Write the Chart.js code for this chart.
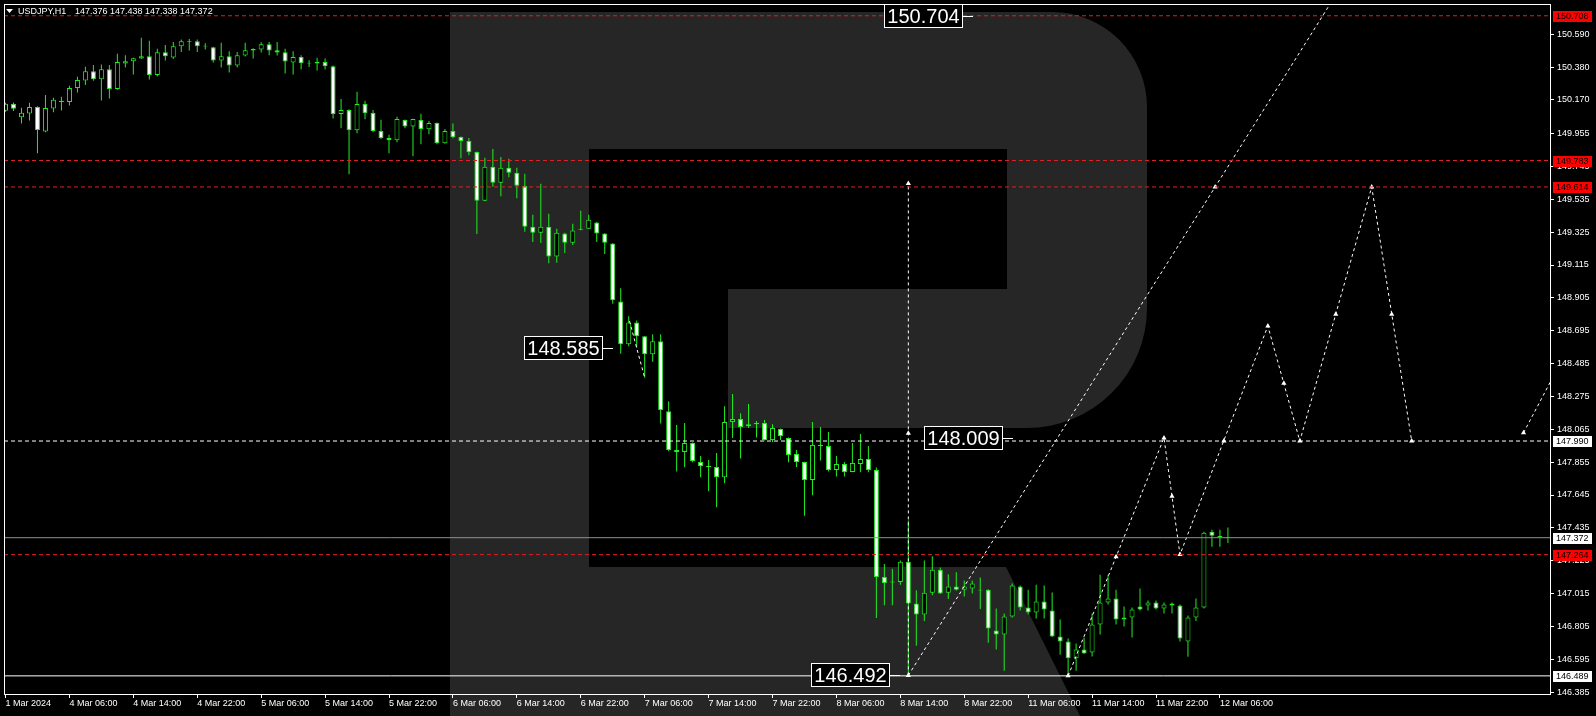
<!DOCTYPE html>
<html lang="en">
<head>
<meta charset="UTF-8">
<title>USDJPY,H1</title>
<script src="https://cdn.jsdelivr.net/npm/chart.js"></script>
<style>
  html, body { margin: 0; padding: 0; background: #000; overflow: hidden; }
  canvas { display: block; }
</style>
</head>
<body>
<canvas id="fxChart" width="1596" height="716"></canvas>
<script>
// USDJPY H1 candles, bar 0 = 1 Mar 22:00, last bar = 12 Mar 07:00
const opens = [150.101,150.146,150.059,150.084,150.125,149.969,150.116,150.157,150.157,150.246,
150.294,150.354,150.303,150.367,150.240,150.403,150.418,150.435,150.450,150.329,
150.475,150.441,150.514,150.541,150.546,150.516,150.507,150.422,150.450,150.390,
150.454,150.486,150.492,150.526,150.488,150.475,150.409,150.444,150.407,150.403,
150.412,150.386,150.080,150.106,149.977,150.144,150.087,149.972,149.927,149.913,
150.042,150.001,150.042,149.982,150.023,149.893,149.972,149.934,149.908,149.838,
149.526,149.743,149.641,149.736,149.704,149.621,149.360,149.322,149.360,149.169,
149.316,149.258,149.341,149.347,149.386,149.316,149.252,148.882,148.608,148.748,
148.659,148.544,148.627,148.181,147.933,147.920,147.977,147.856,147.831,147.824,
147.758,148.111,148.130,148.098,148.105,148.105,147.996,148.067,148.009,147.907,
147.856,147.741,147.965,147.958,147.805,147.843,147.792,147.843,147.875,147.805,
147.121,147.092,147.089,147.219,146.951,146.881,147.021,147.168,147.021,147.060,
147.040,147.047,147.040,147.040,146.779,146.754,146.868,147.060,146.926,146.894,
146.964,146.907,146.741,146.709,146.601,146.658,146.638,146.817,146.958,146.983,
146.849,146.862,146.932,146.939,146.958,146.920,146.951,146.939,146.709,146.862,
146.926,147.410,147.385,147.376];
const highs = [150.152,150.154,150.120,150.152,150.130,150.201,150.184,150.191,150.261,150.318,
150.382,150.393,150.396,150.393,150.465,150.456,150.440,150.567,150.548,150.497,
150.522,150.541,150.556,150.560,150.556,150.533,150.510,150.535,150.482,150.477,
150.535,150.501,150.539,150.541,150.541,150.497,150.482,150.456,150.424,150.439,
150.435,150.390,150.176,150.110,150.222,150.165,150.106,150.044,149.948,150.063,
150.045,150.050,150.082,150.036,150.026,149.985,150.019,149.936,149.927,149.840,
149.800,149.857,149.806,149.794,149.736,149.698,149.437,149.634,149.443,149.347,
149.322,149.379,149.462,149.437,149.390,149.318,149.254,148.967,148.787,148.761,
148.662,148.672,148.672,148.245,148.092,148.105,147.980,147.894,147.869,147.914,
148.213,148.290,148.168,148.226,148.118,148.124,148.098,148.070,148.012,147.933,
147.858,148.111,148.079,148.047,147.894,147.856,147.977,148.035,147.958,147.820,
147.204,147.174,147.227,147.482,147.036,147.227,147.253,147.181,147.138,147.151,
147.098,147.098,147.117,147.043,146.919,146.887,147.079,147.066,147.040,147.072,
147.066,147.022,146.849,146.728,146.696,146.735,146.887,147.136,147.136,147.040,
146.932,146.926,147.047,146.970,146.970,146.958,146.958,146.945,146.875,146.983,
147.410,147.423,147.423,147.438];
const lows = [150.095,150.099,150.020,150.038,149.829,149.963,150.091,150.103,150.135,150.218,
150.265,150.293,150.167,150.180,150.236,150.377,150.333,150.431,150.301,150.320,
150.422,150.431,150.477,150.486,150.477,150.492,150.409,150.377,150.345,150.377,
150.447,150.435,150.473,150.456,150.454,150.339,150.333,150.365,150.380,150.358,
150.365,150.052,149.989,149.695,149.957,150.046,149.963,149.921,149.829,149.899,
149.989,149.810,149.887,149.950,149.887,149.890,149.925,149.797,149.817,149.313,
149.523,149.615,149.555,149.676,149.542,149.328,149.262,149.256,149.126,149.130,
149.192,149.243,149.338,149.345,149.262,149.186,148.867,148.548,148.595,148.586,
148.395,148.497,148.102,147.924,147.796,147.822,147.854,147.758,147.669,147.567,
147.720,148.009,147.879,148.073,148.013,147.994,147.984,147.996,147.854,147.824,
147.512,147.643,147.866,147.796,147.764,147.764,147.790,147.790,147.790,146.859,
146.940,146.940,147.072,146.492,146.681,146.840,147.004,147.013,146.981,147.034,
146.996,147.015,146.917,146.700,146.658,146.522,146.862,146.907,146.881,146.856,
146.856,146.738,146.624,146.489,146.522,146.630,146.613,146.754,146.945,146.817,
146.805,146.735,146.907,146.907,146.913,146.887,146.887,146.709,146.611,146.840,
146.920,147.315,147.315,147.338];
const closes = [150.146,150.114,150.089,150.125,149.978,150.119,150.171,150.165,150.246,150.297,
150.354,150.303,150.367,150.240,150.412,150.418,150.437,150.450,150.329,150.475,
150.450,150.514,150.546,150.546,150.514,150.511,150.422,150.450,150.390,150.456,
150.488,150.495,150.526,150.486,150.473,150.416,150.444,150.405,150.403,150.412,
150.386,150.080,150.106,149.977,150.144,150.085,149.971,149.927,149.913,150.048,
150.001,150.048,149.985,150.023,149.893,149.972,149.931,149.908,149.836,149.526,
149.743,149.641,149.736,149.704,149.621,149.360,149.322,149.360,149.169,149.322,
149.257,149.335,149.347,149.405,149.316,149.258,148.889,148.608,148.748,148.659,
148.544,148.627,148.188,147.933,147.920,147.977,147.862,147.831,147.824,147.758,
148.111,148.130,148.079,148.086,148.098,147.996,148.073,148.022,147.901,147.856,
147.741,147.965,147.958,147.805,147.843,147.792,147.850,147.875,147.805,147.121,
147.083,147.085,147.219,146.951,146.881,147.021,147.168,147.015,147.060,147.040,
147.060,147.079,147.034,146.792,146.754,146.868,147.066,146.926,146.894,146.964,
146.913,146.741,146.709,146.601,146.658,146.632,146.817,146.958,146.983,146.849,
146.862,146.913,146.913,146.958,146.920,146.945,146.939,146.728,146.862,146.926,
147.404,147.385,147.376,147.372];

// one label every 8 bars
const timeLabels = ['1 Mar 2024','4 Mar 06:00','4 Mar 14:00','4 Mar 22:00','5 Mar 06:00','5 Mar 14:00',
  '5 Mar 22:00','6 Mar 06:00','6 Mar 14:00','6 Mar 22:00','7 Mar 06:00','7 Mar 14:00','7 Mar 22:00',
  '8 Mar 06:00','8 Mar 14:00','8 Mar 22:00','11 Mar 06:00','11 Mar 14:00','11 Mar 22:00','12 Mar 06:00'];
const yTicks = [150.590,150.380,150.170,149.955,149.745,149.535,149.325,149.115,148.905,148.695,
  148.485,148.275,148.065,147.855,147.645,147.435,147.225,147.015,146.805,146.595,146.385];

// levels
const redLevels = [150.708, 149.783, 149.614, 147.264];
const whiteLevels = [147.990];
const bidPrice = 147.372;
const lowLevel = 146.489;

// boxed notes: value and the bar where the box ends
const noteValues = [150.704, 148.585, 148.009, 146.492];
const noteBars = [119.8, 74.8, 124.8, 110.7];

// forecast paths as [bar, price]
const pathUp = [[113, 146.492], [167, 150.882]];
const pathVert = [[113, 146.492], [113, 149.636]];
const pathShort = [[78.1, 148.757], [80, 148.395]];
const pathZig = [[133, 146.489], [145, 148.010], [147, 147.264], [158, 148.725], [162, 147.990], [171, 149.614], [176, 147.990]];
const pathTail = [[190, 148.043], [194, 148.43]];
const arrowMarks = [[113, 146.492], [113, 148.04], [113, 149.636], [151.4, 149.614], [133, 146.489], [139, 147.25],
  [145, 148.01], [146, 147.637], [147, 147.264], [152.5, 147.99], [158, 148.725], [160, 148.36], [162, 147.99],
  [166.5, 148.80], [171, 149.614], [173.5, 148.80], [176, 147.99], [190, 148.043]];

const X_MIN = -0.1875, X_MAX = 193.3125;
const Y_MIN = 146.3731, Y_MAX = 150.7833;
const GREEN = '#22ee22';
const FONT = '"Liberation Sans", Arial, sans-serif';

const n = opens.length;
const wickData = opens.map((_, i) => ({x: i, y: [lows[i], highs[i]]}));
const bodyData = opens.map((_, i) => ({x: i, y: [opens[i], closes[i]]}));
const bodyFill = opens.map((o, i) => closes[i] < o ? '#ffffff' : '#000000');
const pts = arr => arr.map(p => ({x: p[0], y: p[1]}));

function hline(v, color, dash) {
  return {type: 'line', data: [{x: X_MIN, y: v}, {x: X_MAX, y: v}], borderColor: color,
    borderWidth: 1, borderDash: dash, pointRadius: 0, order: 0};
}
function fline(arr) {
  return {type: 'line', data: pts(arr), borderColor: '#ffffff', borderWidth: 1,
    borderDash: [3, 3], pointRadius: 0, order: 0};
}

const bgPlugin = {
  id: 'bg',
  beforeDraw(chart) {
    const c = chart.ctx;
    c.save();
    c.fillStyle = '#000';
    c.fillRect(0, 0, chart.width, chart.height);
    // watermark logo
    c.fillStyle = '#262626';
    c.beginPath();
    c.rect(450, 12, 139, 704);
    c.moveTo(589, 12);
    c.lineTo(1052, 12);
    c.arcTo(1147, 12, 1147, 107, 95);
    c.lineTo(1147, 308);
    c.arcTo(1147, 428, 1027, 428, 120);
    c.lineTo(728, 428);
    c.lineTo(728, 289);
    c.lineTo(1007, 289);
    c.lineTo(1007, 149);
    c.lineTo(589, 149);
    c.closePath();
    c.moveTo(589, 567);
    c.lineTo(1006, 567);
    c.lineTo(1080, 716);
    c.lineTo(589, 716);
    c.closePath();
    c.fill();
    c.restore();
  }
};

const overlayPlugin = {
  id: 'overlay',
  afterDraw(chart) {
    const c = chart.ctx, a = chart.chartArea, xs = chart.scales.x, ys = chart.scales.y;
    c.save();
    c.strokeStyle = '#fff';
    c.lineWidth = 1;
    c.strokeRect(a.left + 0.5, a.top + 0.5, a.right - a.left, a.bottom - a.top);

    // boxed notes
    c.font = '20px ' + FONT;
    c.textBaseline = 'middle';
    c.textAlign = 'center';
    noteValues.forEach((v, k) => {
      const txt = v.toFixed(3);
      const right = Math.round(xs.getPixelForValue(noteBars[k]));
      const cy = Math.round(ys.getPixelForValue(v));
      const w = Math.ceil(c.measureText(txt).width) + 6, h = 24;
      c.fillStyle = '#000';
      c.fillRect(right - w, cy - h / 2, w, h);
      c.strokeRect(right - w + 0.5, cy - h / 2 + 0.5, w - 1, h - 1);
      c.fillStyle = '#fff';
      c.fillText(txt, right - w / 2, cy + 1);
      c.beginPath();
      c.moveTo(right, cy + 0.5);
      c.lineTo(right + 10, cy + 0.5);
      c.stroke();
    });

    // price tags on the axis
    const tags = redLevels.map(v => [v, '#ff0000'])
      .concat(whiteLevels.map(v => [v, '#ffffff']), [[bidPrice, '#ffffff'], [lowLevel, '#ffffff']]);
    c.font = '9px ' + FONT;
    c.textAlign = 'left';
    tags.forEach(([v, col]) => {
      const cy = Math.round(ys.getPixelForValue(v));
      c.fillStyle = col;
      c.fillRect(a.right + 3, cy - 5, 39, 11);
      c.fillStyle = '#000';
      c.fillText(v.toFixed(3), a.right + 6, cy + 1);
    });

    // title
    c.fillStyle = '#fff';
    c.beginPath();
    c.moveTo(6, 9); c.lineTo(13, 9); c.lineTo(9.5, 13); c.closePath();
    c.fill();
    c.textBaseline = 'alphabetic';
    c.fillText('USDJPY,H1', 18, 14);
    const last = [opens[n - 1], highs[n - 1], lows[n - 1], closes[n - 1]].map(v => v.toFixed(3)).join(' ');
    c.fillText(last, 75, 14);
    c.restore();
  }
};

new Chart(document.getElementById('fxChart').getContext('2d'), {
  type: 'bar',
  data: {
    datasets: [
      ...redLevels.map(v => hline(v, '#e02020', [4, 3])),
      ...whiteLevels.map(v => hline(v, '#ffffff', [4, 3])),
      hline(bidPrice, '#909090', []),
      hline(lowLevel, '#ffffff', []),
      fline(pathUp), fline(pathVert), fline(pathShort), fline(pathZig), fline(pathTail),
      {type: 'line', data: pts(arrowMarks), showLine: false, pointStyle: 'triangle', pointRadius: 3,
        pointBackgroundColor: '#fff', pointBorderWidth: 0, order: 0},
      {type: 'bar', data: bodyData, grouped: false, barThickness: 5, borderWidth: 1,
        borderColor: GREEN, backgroundColor: bodyFill, borderSkipped: false, inflateAmount: 0, order: 1},
      {type: 'bar', data: wickData, grouped: false, barThickness: 1, borderWidth: 0,
        backgroundColor: GREEN, inflateAmount: 0, order: 2}
    ]
  },
  options: {
    responsive: false,
    animation: false,
    devicePixelRatio: 1,
    events: [],
    layout: {padding: {left: 2, top: 2, right: 0, bottom: 0}},
    plugins: {legend: {display: false}, tooltip: {enabled: false}},
    scales: {
      x: {
        type: 'linear', position: 'bottom', min: X_MIN, max: X_MAX, offset: false,
        afterBuildTicks: s => { s.ticks = timeLabels.map((_, k) => ({value: k * 8})); },
        afterFit: s => { s.height = 22; s.paddingLeft = 0; s.paddingRight = 0; },
        grid: {drawOnChartArea: false, tickLength: 4, color: '#ffffff', offset: false},
        border: {display: false},
        ticks: {autoSkip: false, maxRotation: 0, align: 'start', padding: 0, color: '#ffffff',
          font: {family: FONT, size: 9}, callback: (v, k) => timeLabels[k]}
      },
      y: {
        type: 'linear', position: 'right', min: Y_MIN, max: Y_MAX,
        afterBuildTicks: s => { s.ticks = yTicks.map(v => ({value: v})); },
        afterFit: s => { s.width = 46; s.paddingTop = 0; s.paddingBottom = 0; },
        grid: {drawOnChartArea: false, tickLength: 4, color: '#ffffff'},
        border: {display: false},
        ticks: {crossAlign: 'near', padding: 3, color: '#ffffff',
          font: {family: FONT, size: 9}, callback: v => v.toFixed(3)}
      }
    }
  },
  plugins: [bgPlugin, overlayPlugin]
});
</script>
</body>
</html>
